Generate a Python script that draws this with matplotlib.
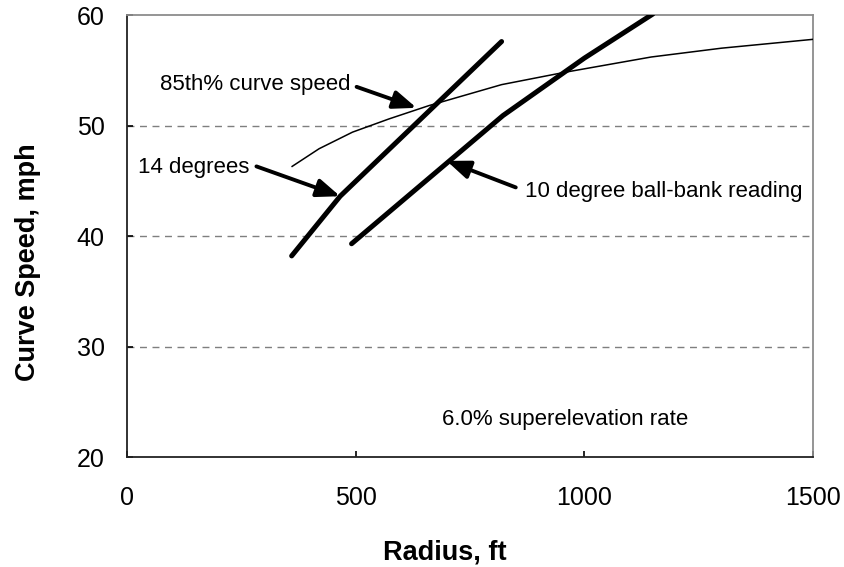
import matplotlib.pyplot as plt

plt.rcParams['font.family'] = ['Liberation Sans', 'DejaVu Sans']

# 85th percentile curve speed (thin line)
radius_85 = [361, 420, 493, 573, 660, 819, 955, 1146, 1300, 1500]
speed_85 = [46.3, 47.9, 49.4, 50.6, 51.8, 53.7, 54.8, 56.2, 57.0, 57.8]

# 14 degree ball-bank reading
radius_14 = [360, 466, 819]
speed_14 = [38.2, 43.6, 57.6]

# 10 degree ball-bank reading
radius_10 = [491, 822, 1000, 1150]
speed_10 = [39.3, 50.9, 56.1, 60.1]

x_ticks = [0, 500, 1000, 1500]
y_ticks = [20, 30, 40, 50, 60]
grid_levels = [30, 40, 50]

fig = plt.figure(figsize=(8.44, 5.67), dpi=100)
ax = fig.add_axes([0.1505, 0.194, 0.8128, 0.7795])

for g in grid_levels:
    ax.axhline(g, color='#7f7f7f', lw=1.0, dashes=(5, 4), zorder=1)

ax.plot(radius_85, speed_85, color='black', lw=1.1, zorder=3)
ax.plot(radius_14, speed_14, color='black', lw=3.6, solid_capstyle='round', zorder=3)
ax.plot(radius_10, speed_10, color='black', lw=3.6, solid_capstyle='round', zorder=3)

arrow = dict(arrowstyle='-|>,head_length=1.4,head_width=0.55', mutation_scale=10,
             lw=2.8, color='black', shrinkA=0, shrinkB=0)
ax.annotate('', xy=(633, 51.6), xytext=(502, 53.5), arrowprops=arrow)
ax.annotate('', xy=(466, 43.6), xytext=(283, 46.3), arrowprops=arrow)
ax.annotate('', xy=(699, 46.8), xytext=(850, 44.4), arrowprops=arrow)

fs = 16
ax.text(73, 53.7, '85th% curve speed', fontsize=fs, ha='left', va='center')
ax.text(24, 46.2, '14 degrees', fontsize=fs, ha='left', va='center')
ax.text(870, 44.0, '10 degree ball-bank reading', fontsize=fs, ha='left', va='center')
ax.text(957, 23.4, '6.0% superelevation rate', fontsize=fs, ha='center', va='center')

ax.set_xlim(0, 1500)
ax.set_ylim(20, 60)
ax.set_xticks(x_ticks)
ax.set_yticks(y_ticks)
ax.tick_params(direction='in', length=4, width=1.2, labelsize=18)
ax.tick_params(axis='y', pad=16)
ax.tick_params(axis='x', pad=21)

for side in ['left', 'bottom']:
    ax.spines[side].set_color('#222222')
    ax.spines[side].set_linewidth(1.3)
for side in ['top', 'right']:
    ax.spines[side].set_color('#8c8c8c')
    ax.spines[side].set_linewidth(1.3)

ax.set_xlabel('Radius, ft', fontsize=19.5, fontweight='bold', labelpad=21, x=0.4636)
ax.set_ylabel('Curve Speed, mph', fontsize=19.5, fontweight='bold', labelpad=26, y=0.441)

fig.savefig('out.png', dpi=100)
